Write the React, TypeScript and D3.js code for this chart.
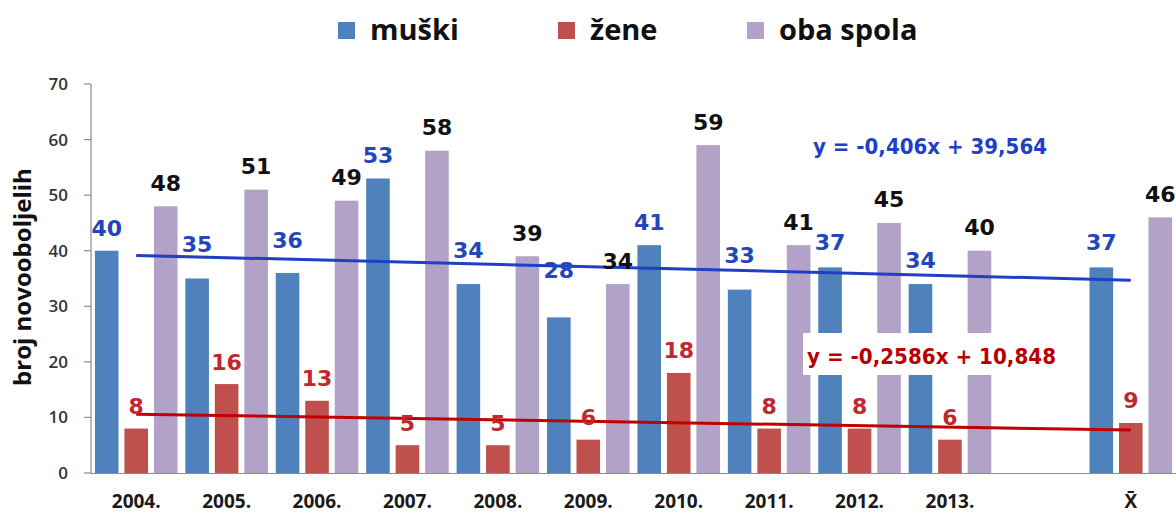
import React from "react";
import * as d3 from "d3";

const categories = ["2004.", "2005.", "2006.", "2007.", "2008.", "2009.", "2010.", "2011.", "2012.", "2013.", "", "X̄"];
const seriesNames = ["muški", "žene", "oba spola"];
const male = [40, 35, 36, 53, 34, 28, 41, 33, 37, 34, null, 37];
const female = [8, 16, 13, 5, 5, 6, 18, 8, 8, 6, null, 9];
const both = [48, 51, 49, 58, 39, 34, 59, 41, 45, 40, null, 46];
const yTicks = [0, 10, 20, 30, 40, 50, 60, 70];
const maleTrend = { slope: -0.406, intercept: 39.564, label: "y = -0,406x + 39,564" };
const femaleTrend = { slope: -0.2586, intercept: 10.848, label: "y = -0,2586x + 10,848" };
// pixel lift of the hand-placed male value labels above their bars (styling)
const maleLabelLift = [23, 34.5, 33, 23.5, 34, 47, 23, 34.6, 25.4, 24, 0, 25.4];

const W = 1176;
const H = 515;
const colors = ["#4f81bd", "#c0504d", "#b3a2c7"];
const labelColors = ["#2346b8", "#c0282d", "#111111"];

export default function App() {
  const x0 = d3.scaleBand<string>().domain(categories.map((c, i) => c + "#" + i)).range([91, 1176]).padding(0);
  const x1 = d3.scaleBand<string>().domain(seriesNames).range([0, x0.bandwidth()]).paddingInner(0.2).paddingOuter(0.133);
  const y = d3.scaleLinear().domain([0, 70]).range([473, 84]);
  const keys = x0.domain();
  const seriesData = [male, female, both];
  const lifts = [(i: number) => maleLabelLift[i], () => 22.5, () => 23.5];

  const center = (k: number) => (x0(keys[k - 1]) as number) + x0.bandwidth() / 2;
  const trendLine = (t: { slope: number; intercept: number }) => {
    const pts = d3.range(1, categories.length + 1).map((k) => [center(k), y(t.intercept + t.slope * k)] as [number, number]);
    return d3.line()([pts[0], pts[pts.length - 1]]) as string;
  };

  const legendPos = [338, 558, 747];

  return (
    <svg width={W} height={H} style={{ position: "absolute", left: 0, top: 0, background: "#fff" }}>
      {/* legend */}
      {seriesNames.map((s, i) => (
        <g key={s}>
          <rect x={legendPos[i]} y={22} width={17} height={17} fill={colors[i]} />
          <text x={legendPos[i] + 32} y={40} fontFamily="Open Sans" fontWeight={700} fontSize={29} fill="#111">
            {s}
          </text>
        </g>
      ))}

      {/* y axis */}
      <line x1={91} x2={91} y1={84} y2={473} stroke="#8c8c8c" strokeWidth={1.2} />
      {yTicks.map((t) => (
        <g key={t}>
          <line x1={84} x2={91} y1={y(t)} y2={y(t)} stroke="#8c8c8c" strokeWidth={1.2} />
          <text x={68} y={y(t) + 6} textAnchor="end" fontFamily="Open Sans" fontWeight={600} fontSize={17} fill="#333">
            {t}
          </text>
        </g>
      ))}
      <text
        transform={`translate(31,277) rotate(-90)`}
        textAnchor="middle"
        fontFamily="Open Sans"
        fontWeight={700}
        fontSize={24}
        fill="#111"
      >
        broj novooboljelih
      </text>

      {/* bars */}
      {seriesData.map((arr, si) =>
        arr.map((v, i) =>
          v == null ? null : (
            <rect
              key={si + "-" + i}
              x={(x0(keys[i]) as number) + (x1(seriesNames[si]) as number)}
              y={y(v)}
              width={x1.bandwidth()}
              height={y(0) - y(v)}
              fill={colors[si]}
            />
          )
        )
      )}

      {/* x axis */}
      <line x1={91} x2={1176} y1={473.5} y2={473.5} stroke="#8c8c8c" strokeWidth={1.2} />
      {categories.map((c, i) => (
        <text
          key={"xl" + i}
          x={center(i + 1)}
          y={508}
          textAnchor="middle"
          fontFamily="Open Sans"
          fontWeight={700}
          fontSize={19}
          fill="#1a1a1a"
        >
          {c}
        </text>
      ))}

      {/* trend lines */}
      <path d={trendLine(maleTrend)} stroke="#1f3fc4" strokeWidth={3} fill="none" />
      <path d={trendLine(femaleTrend)} stroke="#c00000" strokeWidth={3} fill="none" />

      {/* value labels */}
      {seriesData.map((arr, si) =>
        arr.map((v, i) =>
          v == null ? null : (
            <text
              key={"vl" + si + "-" + i}
              x={(x0(keys[i]) as number) + (x1(seriesNames[si]) as number) + x1.bandwidth() / 2}
              y={y(v) - lifts[si](i) + 8}
              textAnchor="middle"
              fontFamily="DejaVu Sans"
              fontWeight={700}
              fontSize={22}
              fill={labelColors[si]}
            >
              {v}
            </text>
          )
        )
      )}

      {/* equations */}
      <rect x={803} y={118} width={264} height={47} fill="#fff" opacity={0.9} />
      <text x={813} y={154} textLength={234} lengthAdjust="spacingAndGlyphs" fontFamily="DejaVu Sans" fontWeight={700} fontSize={21} fill="#1f3fc4">
        {maleTrend.label}
      </text>
      <rect x={803} y={333} width={259} height={42} fill="#fff" />
      <text x={807} y={364} textLength={249} lengthAdjust="spacingAndGlyphs" fontFamily="DejaVu Sans" fontWeight={700} fontSize={22} fill="#b80000">
        {femaleTrend.label}
      </text>
    </svg>
  );
}
